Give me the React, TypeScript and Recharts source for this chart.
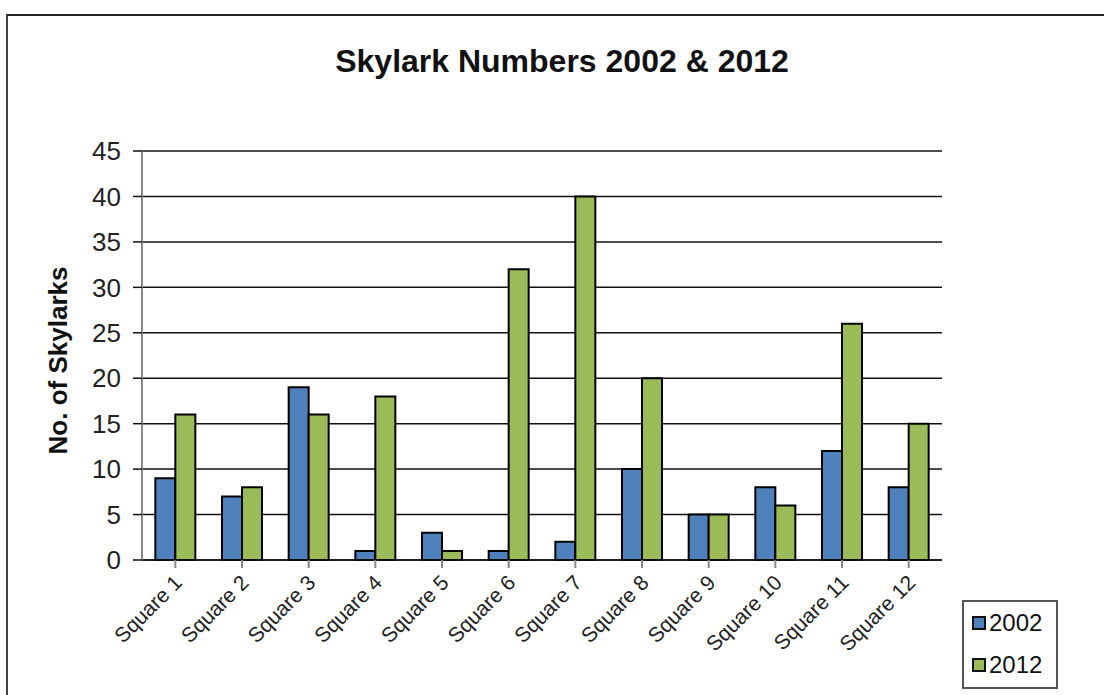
import { BarChart, Bar, XAxis, YAxis, CartesianGrid, Legend } from "recharts"

const squares = [
  "Square 1", "Square 2", "Square 3", "Square 4", "Square 5", "Square 6",
  "Square 7", "Square 8", "Square 9", "Square 10", "Square 11", "Square 12",
]
const counts2002 = [9, 7, 19, 1, 3, 1, 2, 10, 5, 8, 12, 8]
const counts2012 = [16, 8, 16, 18, 1, 32, 40, 20, 5, 6, 26, 15]
const yTicks = [0, 5, 10, 15, 20, 25, 30, 35, 40, 45]

const data = squares.map((name, i) => ({
  name,
  y2002: counts2002[i],
  y2012: counts2012[i],
}))

const font = "'Liberation Sans', Arial, sans-serif"

function SlantTick(props: any) {
  const { x, y, payload } = props
  return (
    <g transform={`translate(${x + 8},${y + 14})`}>
      <text textAnchor="end" fontSize={21} fill="#222" fontFamily={font} transform="rotate(-45)">
        {payload.value}
      </text>
    </g>
  )
}

function LegendBox(props: any) {
  const { payload } = props
  return (
    <div
      style={{
        border: "2px solid #555",
        width: 96,
        height: 89,
        padding: "0 0 0 8px",
        fontFamily: font,
        fontSize: 24,
        color: "#111",
        background: "#fff",
        boxSizing: "border-box",
      }}
    >
      {payload.map((p: any) => (
        <div key={p.value} style={{ display: "flex", alignItems: "center", height: 42 }}>
          <span
            style={{
              display: "inline-block",
              width: 10,
              height: 10,
              background: p.color,
              border: "2px solid #111",
              marginRight: 3,
            }}
          />
          {p.value}
        </div>
      ))}
    </div>
  )
}

export default function App() {
  return (
    <div style={{ position: "absolute", left: 0, top: 0, width: 1104, height: 695, overflow: "hidden", background: "#fff" }}>
      <div
        style={{
          position: "absolute",
          left: 6,
          top: 14,
          width: 1120,
          height: 720,
          borderLeft: "2px solid #444",
          borderTop: "2px solid #222",
        }}
      />
      <div
        style={{
          position: "absolute",
          left: 0,
          width: 1124,
          top: 43,
          textAlign: "center",
          fontFamily: font,
          fontWeight: "bold",
          fontSize: 32,
          color: "#111",
        }}
      >
        Skylark Numbers 2002 &amp; 2012
      </div>
      <div style={{ position: "absolute", left: 0, top: 0 }}>
        <BarChart
          width={1104}
          height={695}
          data={data}
          margin={{ top: 151, right: 162, bottom: 55, left: 82 }}
          barCategoryGap="20%"
          barGap={0}
        >
          <CartesianGrid vertical={false} stroke="#111" strokeWidth={1.5} />
          <XAxis
            dataKey="name"
            interval={0}
            height={80}
            tick={<SlantTick />}
            tickSize={8}
            axisLine={{ stroke: "#111", strokeWidth: 1.5 }}
            tickLine={{ stroke: "#888", strokeWidth: 2 }}
          />
          <XAxis xAxisId="top" orientation="top" dataKey="name" tick={false} tickLine={false} height={0} axisLine={{ stroke: "#888", strokeWidth: 2 }} />
          <YAxis
            width={60}
            domain={[0, 45]}
            ticks={yTicks}
            interval={0}
            tickSize={9}
            tick={{ fontSize: 26, fill: "#222", fontFamily: font, dx: -10 }}
            axisLine={{ stroke: "#888", strokeWidth: 2 }}
            tickLine={{ stroke: "#111", strokeWidth: 1.5 }}
            label={{
              value: "No. of Skylarks",
              angle: -90,
              position: "insideLeft",
              dx: -29,
              dy: 5,
              style: { textAnchor: "middle", fontSize: 26, fontWeight: "bold", fontFamily: font, fill: "#111" },
            }}
          />
          <YAxis yAxisId="right" orientation="right" width={0} tick={false} tickLine={false} axisLine={{ stroke: "#888", strokeWidth: 2 }} />
          <Legend
            layout="vertical"
            verticalAlign="middle"
            align="center"
            content={<LegendBox />}
            wrapperStyle={{ position: "absolute", left: 962, top: 600, width: 96 }}
          />
          <Bar dataKey="y2002" name="2002" fill="#4F81BD" stroke="#000" strokeWidth={2} isAnimationActive={false} />
          <Bar dataKey="y2012" name="2012" fill="#9BBB59" stroke="#000" strokeWidth={2} isAnimationActive={false} />
        </BarChart>
      </div>
    </div>
  )
}
